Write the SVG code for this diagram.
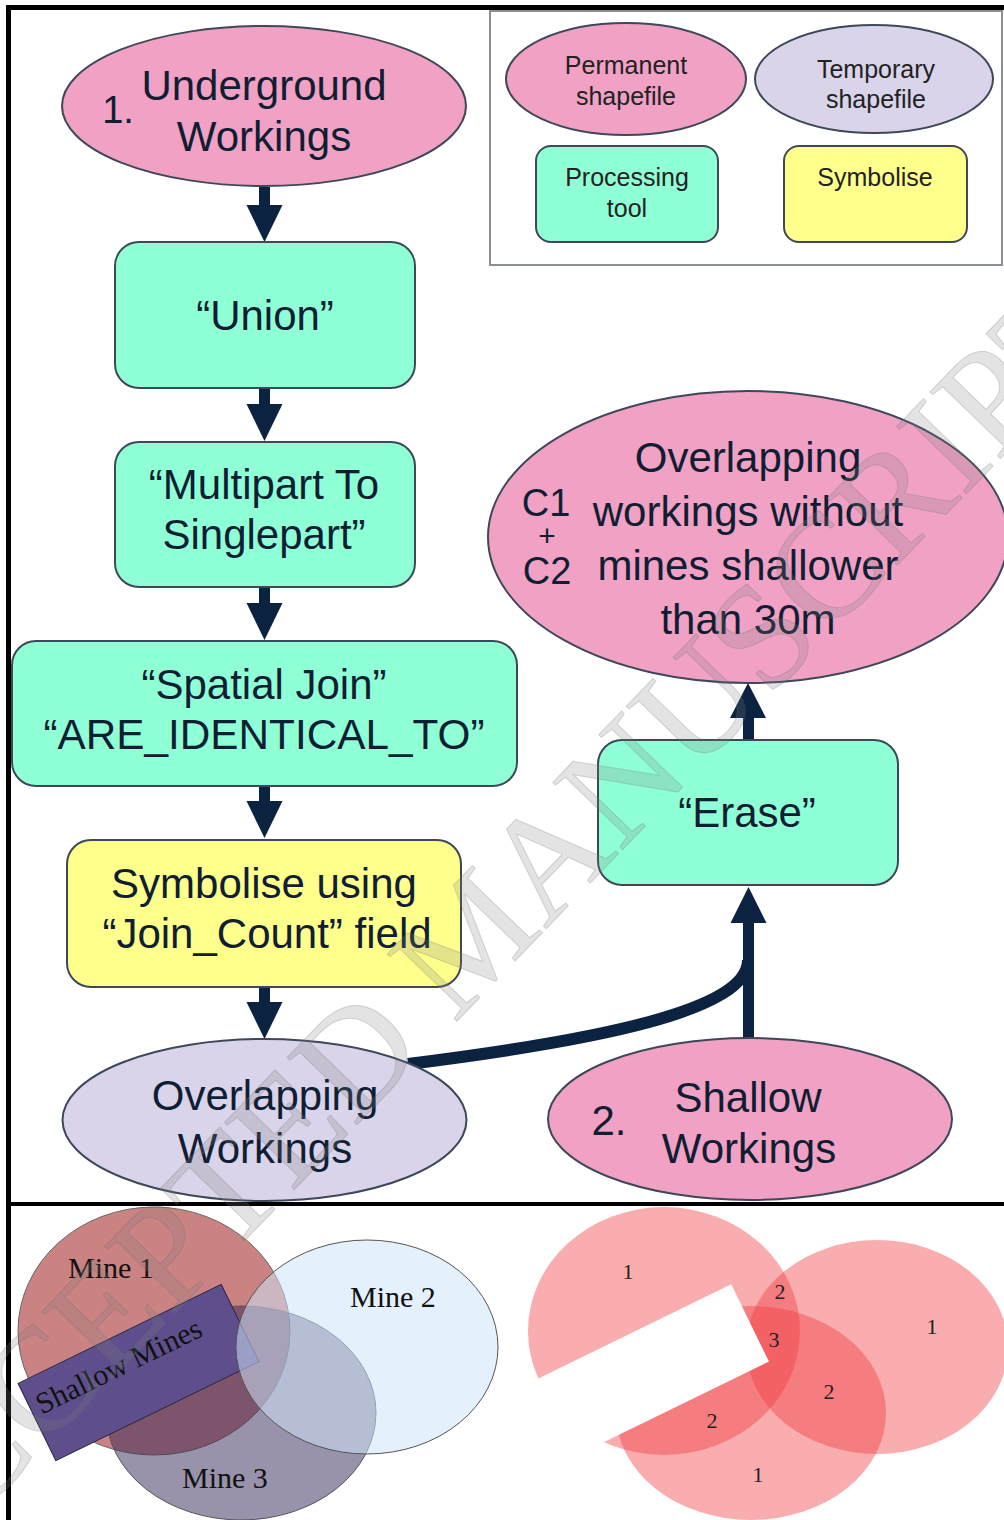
<svg xmlns="http://www.w3.org/2000/svg" width="1004" height="1520" viewBox="0 0 1004 1520">
<style>
.t{font-family:"Liberation Sans",Arial,sans-serif;font-size:42px;fill:#101e34;text-anchor:middle}
.lg{font-family:"Liberation Sans",Arial,sans-serif;font-size:25px;fill:#222;text-anchor:middle}
.perm{fill:#f0a1c4;stroke:#3e4858;stroke-width:2}
.temp{fill:#d9d4ea;stroke:#3e4858;stroke-width:2}
.tool{fill:#8fffd6;stroke:#3e4858;stroke-width:2}
.sym{fill:#ffff8c;stroke:#3e4858;stroke-width:2}
.arr{fill:#0b2340}
.vs{font-family:"Liberation Serif","Times New Roman",serif;font-size:30px;fill:#111}
.vn{font-family:"Liberation Serif","Times New Roman",serif;font-size:22px;fill:#222;text-anchor:middle}
.pc{fill:#f03c41;fill-opacity:0.42}
</style>

<!-- frame -->
<g id="frame">
<rect x="0" y="0" width="1004" height="1520" fill="#ffffff"/>
<line x1="8.5" y1="5" x2="8.5" y2="1520" stroke="#000" stroke-width="5"/>
<line x1="6" y1="7.5" x2="1004" y2="7.5" stroke="#000" stroke-width="5"/>
<line x1="6" y1="1204" x2="1004" y2="1204" stroke="#000" stroke-width="4"/>
</g>

<!-- legend -->
<g id="legend">
<rect x="490" y="11" width="512" height="254" fill="none" stroke="#8a8f96" stroke-width="2"/>
<g id="legend-permanent"><ellipse class="perm" cx="626" cy="79" rx="120" ry="56"/><text class="lg" x="626" y="74">Permanent</text><text class="lg" x="626" y="105">shapefile</text></g>
<g id="legend-temporary"><ellipse class="temp" cx="874" cy="79" rx="119" ry="54"/><text class="lg" x="876" y="78">Temporary</text><text class="lg" x="876" y="108">shapefile</text></g>
<g id="legend-tool"><rect class="tool" x="536" y="146" width="182" height="96" rx="15"/><text class="lg" x="627" y="186">Processing</text><text class="lg" x="627" y="217">tool</text></g>
<g id="legend-symbolise"><rect class="sym" x="784" y="146" width="183" height="96" rx="15"/><text class="lg" x="875" y="186">Symbolise</text></g>
</g>

<!-- connectors -->
<g id="connectors">
<rect class="arr" x="259" y="187" width="11" height="19"/><polygon class="arr" points="246.5,205 282.5,205 264.5,242"/>
<rect class="arr" x="259" y="388" width="11" height="17"/><polygon class="arr" points="246.5,404 282.5,404 264.5,441"/>
<rect class="arr" x="259" y="587" width="11" height="17"/><polygon class="arr" points="246.5,603 282.5,603 264.5,640"/>
<rect class="arr" x="259" y="786" width="11" height="16"/><polygon class="arr" points="246.5,801 282.5,801 264.5,838"/>
<rect class="arr" x="259" y="987" width="11" height="16"/><polygon class="arr" points="246.5,1002 282.5,1002 264.5,1039"/>
<path d="M408,1064 C600,1040 748,1010 748,960" fill="none" stroke="#0b2340" stroke-width="12"/>
<rect class="arr" x="743" y="921" width="11" height="119"/><polygon class="arr" points="730.5,923 766.5,923 748.5,887"/>
<rect class="arr" x="743" y="716" width="11" height="25"/><polygon class="arr" points="730,718 766,718 748,683"/>
</g>

<!-- nodes -->
<g id="n-underground">
<ellipse class="perm" cx="264" cy="106" rx="202" ry="80"/>
<text class="t" x="264" y="100">Underground</text>
<text class="t" x="264" y="151">Workings</text>
<text class="t" x="118" y="123" style="font-size:38px">1.</text>
</g>
<g id="n-union">
<rect class="tool" x="115" y="242" width="300" height="146" rx="24"/>
<text class="t" x="265" y="330">“Union”</text>
</g>
<g id="n-multipart">
<rect class="tool" x="115" y="442" width="300" height="145" rx="24"/>
<text class="t" x="264" y="499">“Multipart To</text>
<text class="t" x="264" y="549">Singlepart”</text>
</g>
<g id="n-spatial">
<rect class="tool" x="12" y="641" width="505" height="145" rx="24"/>
<text class="t" x="264" y="699">“Spatial Join”</text>
<text class="t" x="264" y="749" textLength="441" lengthAdjust="spacingAndGlyphs">“ARE_IDENTICAL_TO”</text>
</g>
<g id="n-symbolise">
<rect class="sym" x="67" y="840" width="394" height="147" rx="24"/>
<text class="t" x="264" y="898">Symbolise using</text>
<text class="t" x="267" y="948">“Join_Count” field</text>
</g>
<g id="n-overlapping">
<ellipse class="temp" cx="264.5" cy="1120" rx="202" ry="81"/>
<text class="t" x="265" y="1110">Overlapping</text>
<text class="t" x="265" y="1163">Workings</text>
</g>
<g id="n-shallow">
<ellipse class="perm" cx="750" cy="1119" rx="202" ry="81"/>
<text class="t" x="748" y="1112">Shallow</text>
<text class="t" x="749" y="1163">Workings</text>
<text class="t" x="609" y="1135">2.</text>
</g>
<g id="n-erase">
<rect class="tool" x="598" y="740" width="300" height="145" rx="24"/>
<text class="t" x="747" y="827">“Erase”</text>
</g>
<g id="n-result">
<ellipse class="perm" cx="748" cy="537" rx="260" ry="146"/>
<text class="t" x="748" y="472">Overlapping</text>
<text class="t" x="748" y="526">workings without</text>
<text class="t" x="748" y="580">mines shallower</text>
<text class="t" x="748" y="634">than 30m</text>
<text class="t" x="546" y="516" style="font-size:38px">C1</text>
<text class="t" x="547" y="546" style="font-size:30px">+</text>
<text class="t" x="547" y="584" style="font-size:38px">C2</text>
</g>

<!-- bottom left venn -->
<g id="venn-mines">
<ellipse cx="154" cy="1331" rx="136" ry="124" fill="#ca8282" stroke="#666" stroke-width="1"/>
<ellipse cx="241" cy="1413" rx="135" ry="107" fill="#352958" fill-opacity="0.51" stroke="#555" stroke-width="1"/>
<rect x="-113" y="-43" width="226" height="86" fill="#5e4f8c" stroke="#2b2540" stroke-width="1" transform="translate(138.5,1372.5) rotate(-26)"/>
<text class="vs" text-anchor="middle" transform="translate(123,1375) rotate(-26)">Shallow Mines</text>
<ellipse cx="367" cy="1347" rx="131" ry="107" fill="#cee4fa" fill-opacity="0.54" stroke="#555" stroke-width="1"/>
<text class="vs" x="68" y="1278">Mine 1</text>
<text class="vs" x="350" y="1307">Mine 2</text>
<text class="vs" x="182" y="1488">Mine 3</text>
</g>

<!-- bottom right venn -->
<g id="venn-count">
<ellipse class="pc" cx="664" cy="1331" rx="136" ry="124"/>
<ellipse class="pc" cx="877" cy="1347" rx="131" ry="107"/>
<ellipse class="pc" cx="751" cy="1413" rx="135" ry="107"/>
<rect x="-113" y="-43" width="226" height="86" fill="#ffffff" transform="translate(648.5,1372.5) rotate(-26)"/>
<text class="vn" x="628" y="1279">1</text>
<text class="vn" x="780" y="1299">2</text>
<text class="vn" x="774" y="1347">3</text>
<text class="vn" x="932" y="1334">1</text>
<text class="vn" x="829" y="1399">2</text>
<text class="vn" x="712" y="1428">2</text>
<text class="vn" x="758" y="1482">1</text>
</g>

<!-- watermark -->
<text transform="translate(-103,1601) rotate(-46)" font-family="Liberation Serif,'Times New Roman',serif" font-size="148" fill="#808080" fill-opacity="0.22" stroke="#707070" stroke-opacity="0.25" stroke-width="1">ACCEPTED MANUSCRIPT</text>
</svg>
